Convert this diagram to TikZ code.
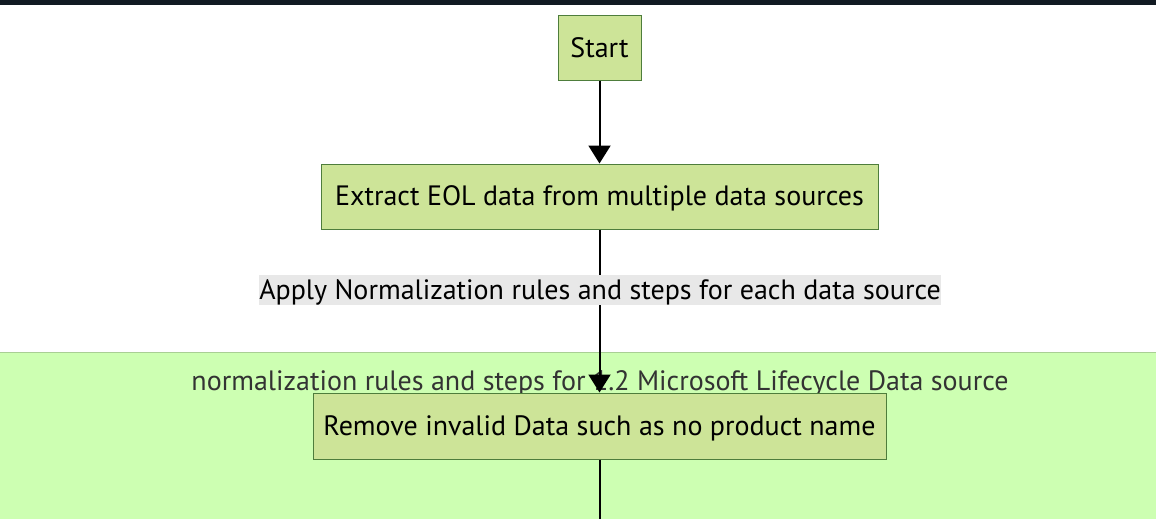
\documentclass[tikz,border=0pt]{standalone}
\usepackage{fontspec}
\setmainfont{PT Sans}
\usetikzlibrary{arrows.meta}
\definecolor{nodefill}{HTML}{CDE498}
\definecolor{nodeborder}{HTML}{4E7D3C}
\definecolor{clusterfill}{HTML}{CDFFB2}
\definecolor{clusterborder}{HTML}{A9CF94}
\definecolor{labelbg}{HTML}{E8E8E8}
\definecolor{topbar}{HTML}{111A22}
\definecolor{clustertext}{HTML}{333333}
\tikzset{
  txt/.style={font=\fontsize{28}{32}\selectfont, text height=24pt, text depth=5.5pt},
  flowbox/.style={txt, draw=nodeborder, line width=1pt, fill=nodefill, inner sep=0pt, text=black},
  flowarrow/.style={line width=2pt, -{Triangle[length=18pt,width=22pt]}},
  flowline/.style={line width=2pt},
  edgelabel/.style={txt, fill=labelbg, inner sep=0pt, text=black},
}
\begin{document}
\begin{tikzpicture}[x=1pt, y=-1pt]
\useasboundingbox (0,0) rectangle (1156,519);
\fill[white] (0,0) rectangle (1156,519);
\fill[topbar] (0,0) rectangle (1156,5);
% cluster
\path[fill=clusterfill, draw=clusterborder, line width=1pt] (-5,352) rectangle (1161,530);
\node[txt, text=clustertext, inner sep=0pt] (clab) at (600,381)
  {normalization rules and steps for 1.2 Microsoft Lifecycle Data source};
% nodes
\node[flowbox, minimum width=83pt, minimum height=64pt] (start) at (599.5,48) {Start};
\node[flowbox, minimum width=557pt, minimum height=65pt] (extract) at (599.5,196.5) {Extract EOL data from multiple data sources};
\node[flowbox, minimum width=573pt, minimum height=66pt] (remove) at (599.5,426) {Remove invalid Data such as no product name};
\coordinate (bottom) at (599.5,519);
% edges
\draw[flowarrow] (start.south) -- (extract.north);
\draw[flowarrow] (extract.south) -- (remove.north);
\node[edgelabel, minimum width=682pt, minimum height=30pt] (elab) at (600,290)
  {Apply Normalization rules and steps for each data source};
\draw[flowline] (remove.south) -- (bottom);
\end{tikzpicture}
\end{document}
